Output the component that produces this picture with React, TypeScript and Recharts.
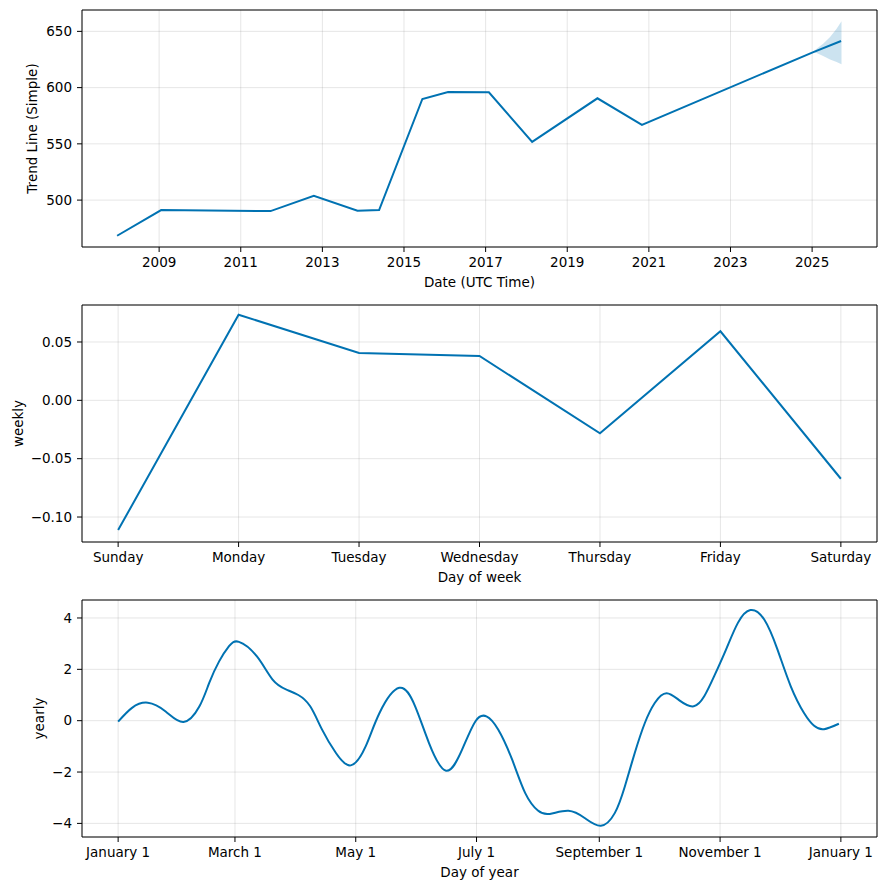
import { Area, CartesianGrid, ComposedChart, Line, ReferenceLine, XAxis, YAxis } from 'recharts';

// trend panel
const trendYears = [2007.97, 2009.05, 2011.73, 2012.79, 2013.86, 2014.39, 2015.45, 2016.08, 2017.08, 2018.14, 2019.74, 2020.83, 2025.03, 2025.71];
const trendValues = [468.3, 491.1, 490.2, 503.8, 490.5, 491.1, 589.9, 596.1, 595.8, 551.7, 590.5, 566.9, 631.6, 641.4];
const bandYears = [2025.03, 2025.11, 2025.27, 2025.44, 2025.6, 2025.72];
const bandLow = [631.4, 630.7, 628.1, 624.9, 622.7, 620.7];
const bandHigh = [631.8, 634.6, 639.1, 644.9, 652.4, 658.9];
const yearTicks = [2009, 2011, 2013, 2015, 2017, 2019, 2021, 2023, 2025];
const trendTicks = [500, 550, 600, 650];

// weekly panel
const weekDays = ['Sunday', 'Monday', 'Tuesday', 'Wednesday', 'Thursday', 'Friday', 'Saturday'];
const weeklyValues = [-0.1112, 0.0734, 0.0406, 0.038, -0.0283, 0.0592, -0.0672];
const weeklyTicks = [-0.1, -0.05, 0, 0.05];

// yearly panel (day of year, 0 = January 1)
const yearDays = [0, 7, 15, 24, 33, 41, 46, 51, 56, 61, 70, 78, 85, 91, 97, 103, 110, 117.5, 125, 132, 142, 150, 157, 165.6, 173.7, 180.4, 186, 192, 199, 205.6, 212, 218, 227.4, 235.8, 243.8, 250.8, 255.9, 260.9, 266, 271, 277, 284, 290.7, 296, 301, 307, 313, 319.3, 326.3, 333, 339.7, 346.4, 351.5, 356.5, 364];
const yearlyValues = [-0.04, 0.5, 0.7, 0.36, -0.05, 0.55, 1.47, 2.31, 2.9, 3.07, 2.51, 1.6, 1.21, 1.0, 0.56, -0.35, -1.26, -1.74, -1.0, 0.3, 1.28, 0.56, -0.87, -1.95, -1.13, -0.03, 0.17, -0.35, -1.52, -2.82, -3.5, -3.63, -3.51, -3.8, -4.09, -3.6, -2.56, -1.26, -0.09, 0.69, 1.07, 0.76, 0.56, 0.95, 1.73, 2.77, 3.81, 4.31, 3.94, 2.77, 1.34, 0.3, -0.2, -0.33, -0.12];
const monthTickDays = [0, 59, 120, 181, 243, 304, 365];
const monthTickLabels = ['January 1', 'March 1', 'May 1', 'July 1', 'September 1', 'November 1', 'January 1'];
const yearlyTicks = [-4, -2, 0, 2, 4];

const FONT = '"DejaVu Sans", sans-serif';
const BLUE = '#0072B2';
const W = 886;
const H = 295;
const MARGIN = { top: 10, right: 9, bottom: 0, left: 0 };
const PLOT_H = 237;
const tickStyle = { fontSize: 13.5, fontFamily: FONT, fill: '#000' };
const minus = (s: string) => s.replace('-', '\u2212');

function YLabel({ text, posX }: { text: string; posX: number }) {
  const y = MARGIN.top + PLOT_H / 2;
  return (
    <text x={posX} y={y} transform={`rotate(-90 ${posX} ${y})`} textAnchor="middle" dominantBaseline="central" fontSize={13.5} fontFamily={FONT} fill="#000">
      {text}
    </text>
  );
}

function XLabel({ text }: { text: string }) {
  return (
    <text x={82 + 795 / 2} y={282} textAnchor="middle" dominantBaseline="central" fontSize={13.5} fontFamily={FONT} fill="#000">
      {text}
    </text>
  );
}

function Panel({
  xDomain,
  yDomain,
  xTicks,
  yTicks,
  xFmt,
  yFmt,
  xLabel,
  yLabel,
  yLabelX,
  children,
}: {
  xDomain: [number, number];
  yDomain: [number, number];
  xTicks: number[];
  yTicks: number[];
  xFmt: (v: number) => string;
  yFmt: (v: number) => string;
  xLabel: string;
  yLabel: string;
  yLabelX: number;
  children: React.ReactNode;
}) {
  return (
    <ComposedChart width={W} height={H} margin={MARGIN}>
      <CartesianGrid stroke="#808080" strokeOpacity={0.2} strokeWidth={1} />
      <XAxis
        dataKey="x"
        type="number"
        domain={xDomain}
        ticks={xTicks}
        tickFormatter={xFmt}
        allowDataOverflow
        height={48}
        tickSize={5}
        tickMargin={5}
        tick={tickStyle}
        tickLine={{ stroke: '#000' }}
        axisLine={{ stroke: '#000' }}
        interval={0}
        label={<XLabel text={xLabel} />}
      />
      <YAxis
        type="number"
        domain={yDomain}
        ticks={yTicks}
        tickFormatter={yFmt}
        allowDataOverflow
        width={82}
        tickSize={5}
        tickMargin={5}
        tick={tickStyle}
        tickLine={{ stroke: '#000' }}
        axisLine={{ stroke: '#000' }}
        interval={0}
        label={<YLabel text={yLabel} posX={yLabelX} />}
      />
      {children}
      <ReferenceLine y={yDomain[1]} stroke="#000" strokeWidth={1} />
      <ReferenceLine x={xDomain[1]} stroke="#000" strokeWidth={1} />
    </ComposedChart>
  );
}

export default function App() {
  const trendRows = trendYears.map((x, i) => ({ x, trend: trendValues[i] }));
  const bandRows = bandYears.map((x, i) => ({ x, band: [bandLow[i], bandHigh[i]] }));
  const weeklyRows = weeklyValues.map((v, i) => ({ x: i, weekly: v }));
  const yearlyRows = yearDays.map((x, i) => ({ x, yearly: yearlyValues[i] }));

  return (
    <div style={{ width: W, background: '#fff' }}>
      <style>{'body{margin:0}'}</style>
      <Panel
        xDomain={[2007.11, 2026.59]}
        yDomain={[458.3, 669]}
        xTicks={yearTicks}
        yTicks={trendTicks}
        xFmt={(v) => String(v)}
        yFmt={(v) => String(v)}
        xLabel="Date (UTC Time)"
        yLabel="Trend Line (Simple)"
        yLabelX={31.7}
      >
        <Area data={bandRows} dataKey="band" stroke="none" fill={BLUE} fillOpacity={0.2} isAnimationActive={false} />
        <Line data={trendRows} dataKey="trend" stroke={BLUE} strokeWidth={2} dot={false} type="linear" isAnimationActive={false} />
      </Panel>
      <Panel
        xDomain={[-0.3, 6.3]}
        yDomain={[-0.1214, 0.0817]}
        xTicks={[0, 1, 2, 3, 4, 5, 6]}
        yTicks={weeklyTicks}
        xFmt={(v) => weekDays[v] ?? ''}
        yFmt={(v) => minus(v.toFixed(2))}
        xLabel="Day of week"
        yLabel="weekly"
        yLabelX={17.5}
      >
        <Line data={weeklyRows} dataKey="weekly" stroke={BLUE} strokeWidth={2} dot={false} type="linear" isAnimationActive={false} />
      </Panel>
      <Panel
        xDomain={[-18.25, 383.25]}
        yDomain={[-4.53, 4.7]}
        xTicks={monthTickDays}
        yTicks={yearlyTicks}
        xFmt={(v) => monthTickLabels[monthTickDays.indexOf(v)] ?? ''}
        yFmt={(v) => minus(String(v))}
        xLabel="Day of year"
        yLabel="yearly"
        yLabelX={38.5}
      >
        <Line data={yearlyRows} dataKey="yearly" stroke={BLUE} strokeWidth={2} dot={false} type="natural" isAnimationActive={false} />
      </Panel>
    </div>
  );
}
